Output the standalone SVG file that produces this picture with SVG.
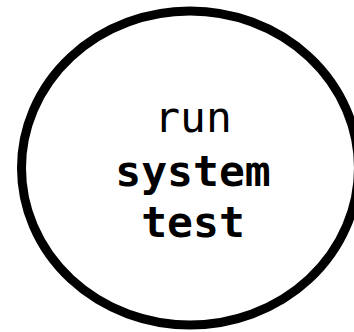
<svg xmlns="http://www.w3.org/2000/svg" width="354" height="332" viewBox="0 0 354 332">
<style>
.node{fill:#ffffff;stroke:#000000;stroke-width:9}
.lbl{font-family:"DejaVu Sans Mono","Liberation Mono",monospace;font-size:43px;fill:#000000;text-anchor:middle}
.b{font-weight:bold}
</style>
<rect width="354" height="332" fill="#ffffff"/>
<g id="connectors"></g>
<g id="node-run-system-test">
<ellipse class="node" cx="190" cy="168" rx="168.5" ry="157"/>
<text class="lbl" x="193" y="132">run</text>
<text class="lbl b" x="193" y="186">system</text>
<text class="lbl b" x="193" y="237">test</text>
</g>
</svg>
